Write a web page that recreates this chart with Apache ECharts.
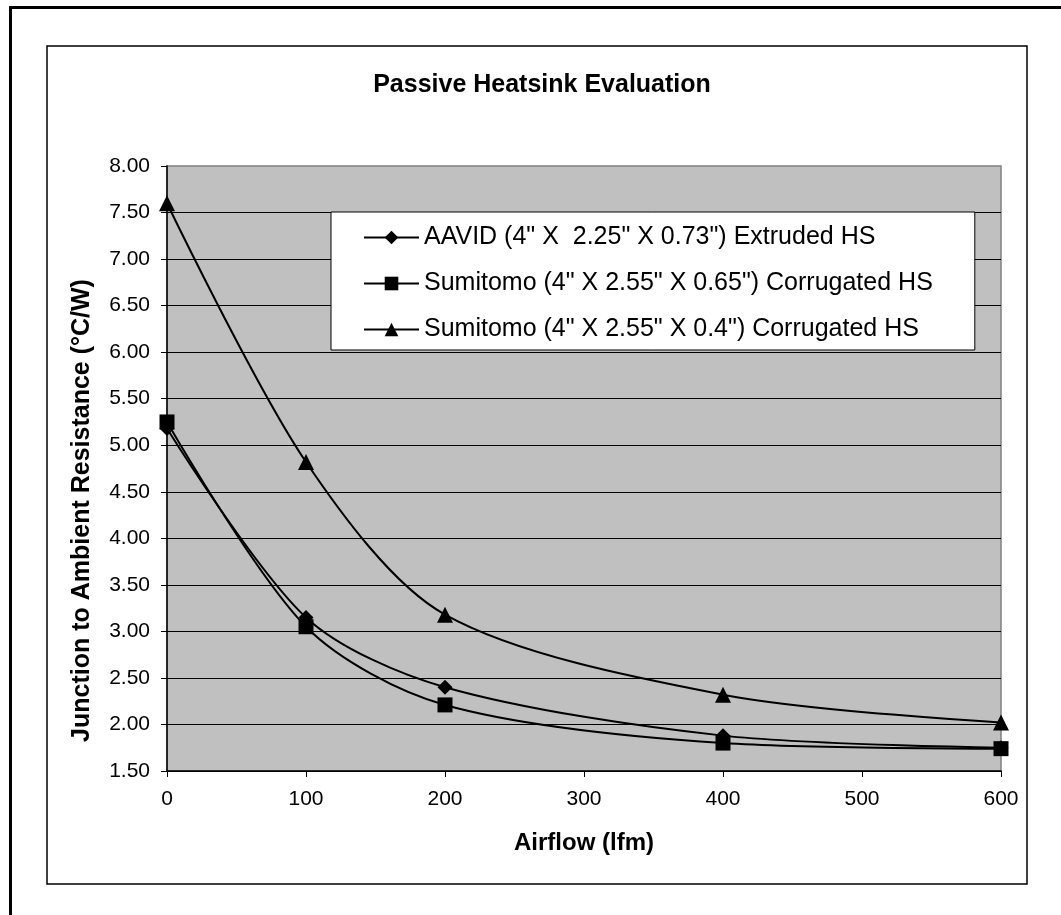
<!DOCTYPE html>
<html>
<head>
<meta charset="utf-8">
<script src="https://cdn.jsdelivr.net/npm/echarts@6/dist/echarts.min.js"></script>
<style>
  html, body { margin: 0; padding: 0; background: #fff; }
  #chart { width: 1061px; height: 915px; }
</style>
</head>
<body>
<div id="chart"></div>
<script>
// airflow (lfm)
const airflow = [0, 100, 200, 400, 600]
// junction to ambient resistance (°C/W)
const aavid = [5.18, 3.15, 2.40, 1.88, 1.75]
const sumitomo065 = [5.25, 3.05, 2.21, 1.80, 1.74]
const sumitomo04 = [7.60, 4.82, 3.18, 2.32, 2.02]

const seriesNames = [
  'AAVID (4" X  2.25" X 0.73") Extruded HS',
  'Sumitomo (4" X 2.55" X 0.65") Corrugated HS',
  'Sumitomo (4" X 2.55" X 0.4") Corrugated HS',
]

const font = 'Arial, "Liberation Sans", sans-serif'

function pairs(ys) {
  return airflow.map((x, i) => [x, ys[i]])
}

function lineSeries(name, ys, symbol, size) {
  return {
    name: name,
    type: 'line',
    data: pairs(ys),
    smooth: 0.3,
    symbol: symbol,
    symbolSize: size,
    lineStyle: { color: '#000', width: 2 },
    itemStyle: { color: '#000', borderWidth: 0 },
    emphasis: { disabled: true },
  }
}

const chart = echarts.init(document.getElementById('chart'), null, { renderer: 'canvas' })

chart.setOption({
  animation: false,
  backgroundColor: '#fff',
  textStyle: { fontFamily: font },
  graphic: [
    {
      type: 'rect',
      shape: { x: 10.5, y: 7.5, width: 1200, height: 1200 },
      style: { fill: 'none', stroke: '#000', lineWidth: 3 },
      z: -1,
    },
    {
      type: 'rect',
      shape: { x: 47, y: 46, width: 980, height: 838 },
      style: { fill: 'none', stroke: '#000', lineWidth: 1.5 },
      z: -1,
    },
  ],
  title: {
    text: 'Passive Heatsink Evaluation',
    left: 537,
    textAlign: 'center',
    top: 68,
    textStyle: { fontFamily: font, fontSize: 25, fontWeight: 'bold', color: '#000' },
  },
  legend: {
    orient: 'vertical',
    left: 331,
    top: 212,
    padding: [13, 42, 8, 32],
    itemGap: 21,
    itemWidth: 55,
    itemHeight: 17,
    backgroundColor: '#fff',
    borderColor: '#000',
    borderWidth: 1,
    borderRadius: 0,
    textStyle: { fontFamily: font, fontSize: 25, color: '#000' },
    data: seriesNames,
  },
  grid: {
    left: 167,
    right: 60,
    top: 166,
    bottom: 144,
    show: true,
    backgroundColor: '#c0c0c0',
    borderColor: '#808080',
    borderWidth: 1.5,
  },
  xAxis: {
    type: 'value',
    min: 0,
    max: 600,
    interval: 100,
    name: 'Airflow (lfm)',
    nameLocation: 'middle',
    nameGap: 60,
    nameTextStyle: { fontFamily: font, fontSize: 24, fontWeight: 'bold', color: '#000' },
    axisLine: { lineStyle: { color: '#000', width: 1.5 } },
    axisTick: { show: true, inside: false, length: 6, lineStyle: { color: '#000' } },
    axisLabel: { fontFamily: font, fontSize: 21, color: '#000', margin: 18 },
    splitLine: { show: false },
  },
  yAxis: {
    type: 'value',
    min: 1.5,
    max: 8,
    interval: 0.5,
    name: 'Junction to Ambient Resistance (°C/W)',
    nameLocation: 'middle',
    nameGap: 72,
    nameTextStyle: {
      fontFamily: font,
      fontSize: 25,
      fontWeight: 'bold',
      color: '#000',
      padding: [0, 84, 0, 0],
    },
    axisLine: { show: true, lineStyle: { color: '#000', width: 1.5 } },
    axisTick: { show: true, inside: false, length: 6, lineStyle: { color: '#000' } },
    axisLabel: {
      fontFamily: font,
      fontSize: 21,
      color: '#000',
      margin: 17,
      formatter: (v) => v.toFixed(2),
    },
    splitLine: {
      show: true,
      showMaxLine: false,
      lineStyle: { color: '#000', width: 1 },
    },
  },
  series: [
    lineSeries(seriesNames[0], aavid, 'diamond', 15),
    lineSeries(seriesNames[1], sumitomo065, 'rect', 15),
    lineSeries(seriesNames[2], sumitomo04, 'triangle', 16),
  ],
})
</script>
</body>
</html>
